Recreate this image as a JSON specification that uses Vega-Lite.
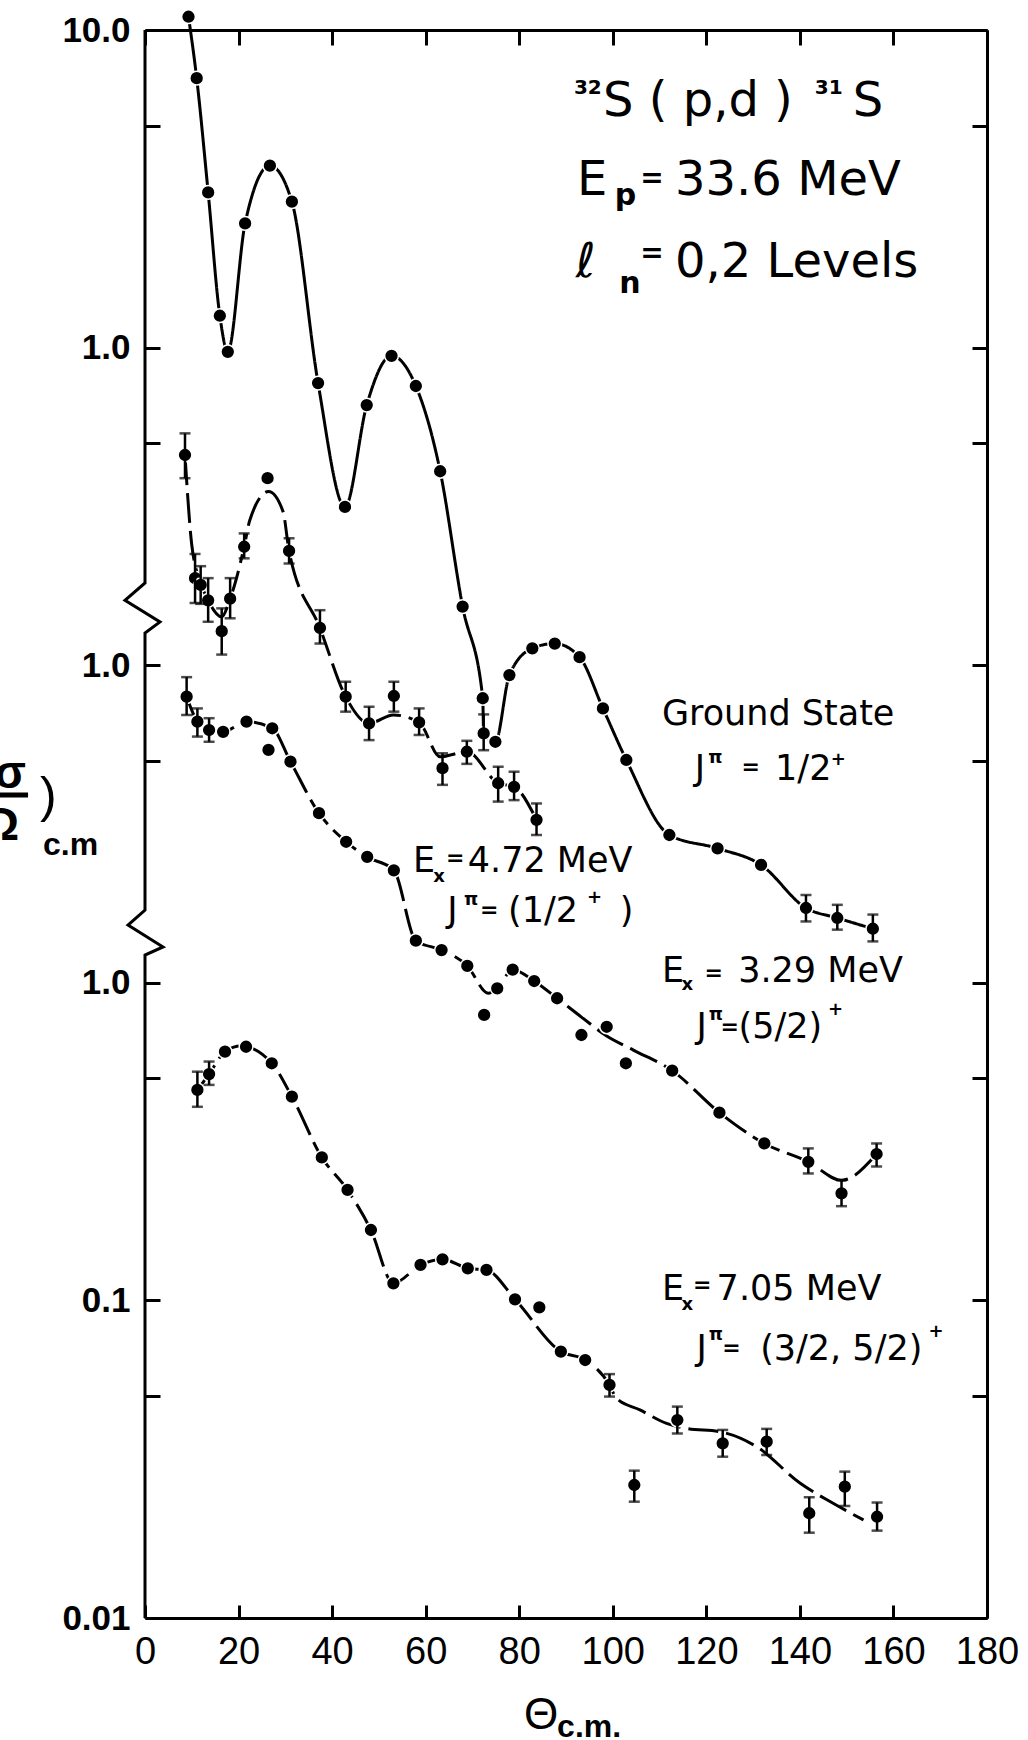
{
  "$schema": "https://vega.github.io/schema/vega-lite/v6.json",
  "width": 842,
  "height": 1588,
  "autosize": {"type": "none"},
  "padding": {"left": 145, "top": 30, "right": 41, "bottom": 122},
  "background": "white",
  "config": {
    "view": {"stroke": null},
    "axis": {"grid": false, "domainColor": "black", "tickColor": "black", "labelColor": "black"}
  },
  "datasets": {
    "pts": [
      {"state": "Ground state", "angle": 9.3, "xsec": 1101},
      {"state": "Ground state", "angle": 11.05, "xsec": 705},
      {"state": "Ground state", "angle": 13.5, "xsec": 308},
      {"state": "Ground state", "angle": 16.0, "xsec": 126},
      {"state": "Ground state", "angle": 17.7, "xsec": 97},
      {"state": "Ground state", "angle": 21.4, "xsec": 246},
      {"state": "Ground state", "angle": 26.7, "xsec": 374},
      {"state": "Ground state", "angle": 31.4, "xsec": 288},
      {"state": "Ground state", "angle": 37.0, "xsec": 77.3},
      {"state": "Ground state", "angle": 42.75, "xsec": 31.5},
      {"state": "Ground state", "angle": 47.4, "xsec": 65.9},
      {"state": "Ground state", "angle": 52.7, "xsec": 94.2},
      {"state": "Ground state", "angle": 57.9, "xsec": 75.7},
      {"state": "Ground state", "angle": 63.1, "xsec": 40.8},
      {"state": "Ground state", "angle": 67.9, "xsec": 15.3},
      {"state": "Ground state", "angle": 72.2, "xsec": 7.87},
      {"state": "Ground state", "angle": 72.4, "xsec": 6.1, "lo": 5.4, "hi": 7.0},
      {"state": "Ground state", "angle": 74.9, "xsec": 5.74},
      {"state": "Ground state", "angle": 77.9, "xsec": 9.31},
      {"state": "Ground state", "angle": 82.8, "xsec": 11.3},
      {"state": "Ground state", "angle": 87.6, "xsec": 11.7},
      {"state": "Ground state", "angle": 92.9, "xsec": 10.6},
      {"state": "Ground state", "angle": 97.9, "xsec": 7.31},
      {"state": "Ground state", "angle": 102.9, "xsec": 5.03},
      {"state": "Ground state", "angle": 112.1, "xsec": 2.92},
      {"state": "Ground state", "angle": 122.4, "xsec": 2.65},
      {"state": "Ground state", "angle": 131.7, "xsec": 2.35},
      {"state": "Ground state", "angle": 141.3, "xsec": 1.72, "lo": 1.56, "hi": 1.89},
      {"state": "Ground state", "angle": 148.0, "xsec": 1.60, "lo": 1.47, "hi": 1.76},
      {"state": "Ground state", "angle": 155.6, "xsec": 1.48, "lo": 1.35, "hi": 1.64},

      {"state": "4.72 MeV", "angle": 8.55, "xsec": 45.9, "lo": 38.8, "hi": 53.7},
      {"state": "4.72 MeV", "angle": 10.7, "xsec": 18.8, "lo": 15.7, "hi": 22.4},
      {"state": "4.72 MeV", "angle": 11.9, "xsec": 17.9, "lo": 15.6, "hi": 20.5},
      {"state": "4.72 MeV", "angle": 13.5, "xsec": 16.0, "lo": 13.7, "hi": 18.8},
      {"state": "4.72 MeV", "angle": 16.4, "xsec": 12.8, "lo": 10.8, "hi": 15.1},
      {"state": "4.72 MeV", "angle": 18.2, "xsec": 16.2, "lo": 14.05, "hi": 18.8},
      {"state": "4.72 MeV", "angle": 21.2, "xsec": 23.6, "lo": 21.7, "hi": 26.0},
      {"state": "4.72 MeV", "angle": 26.2, "xsec": 38.8},
      {"state": "4.72 MeV", "angle": 30.8, "xsec": 22.9, "lo": 20.9, "hi": 25.1},
      {"state": "4.72 MeV", "angle": 37.4, "xsec": 13.1, "lo": 11.7, "hi": 14.9},
      {"state": "4.72 MeV", "angle": 42.9, "xsec": 7.96, "lo": 7.14, "hi": 8.87},
      {"state": "4.72 MeV", "angle": 47.9, "xsec": 6.56, "lo": 5.81, "hi": 7.40},
      {"state": "4.72 MeV", "angle": 53.2, "xsec": 8.0, "lo": 7.14, "hi": 8.87},
      {"state": "4.72 MeV", "angle": 58.6, "xsec": 6.61, "lo": 6.03, "hi": 7.31},
      {"state": "4.72 MeV", "angle": 63.6, "xsec": 4.74, "lo": 4.20, "hi": 5.28},
      {"state": "4.72 MeV", "angle": 68.8, "xsec": 5.34, "lo": 4.89, "hi": 5.78},
      {"state": "4.72 MeV", "angle": 75.5, "xsec": 4.25, "lo": 3.72, "hi": 4.79},
      {"state": "4.72 MeV", "angle": 78.9, "xsec": 4.14, "lo": 3.76, "hi": 4.62},
      {"state": "4.72 MeV", "angle": 83.7, "xsec": 3.26, "lo": 2.92, "hi": 3.67},

      {"state": "3.29 MeV", "angle": 8.9, "xsec": 7.96, "lo": 6.97, "hi": 9.17},
      {"state": "3.29 MeV", "angle": 11.2, "xsec": 6.64, "lo": 5.96, "hi": 7.31},
      {"state": "3.29 MeV", "angle": 13.7, "xsec": 6.25, "lo": 5.74, "hi": 6.81},
      {"state": "3.29 MeV", "angle": 16.7, "xsec": 6.17},
      {"state": "3.29 MeV", "angle": 21.7, "xsec": 6.64},
      {"state": "3.29 MeV", "angle": 27.2, "xsec": 6.33},
      {"state": "3.29 MeV", "angle": 26.4, "xsec": 5.41},
      {"state": "3.29 MeV", "angle": 31.1, "xsec": 4.97},
      {"state": "3.29 MeV", "angle": 37.2, "xsec": 3.42},
      {"state": "3.29 MeV", "angle": 43.0, "xsec": 2.78},
      {"state": "3.29 MeV", "angle": 47.5, "xsec": 2.49},
      {"state": "3.29 MeV", "angle": 53.2, "xsec": 2.26},
      {"state": "3.29 MeV", "angle": 57.9, "xsec": 1.357},
      {"state": "3.29 MeV", "angle": 63.4, "xsec": 1.268},
      {"state": "3.29 MeV", "angle": 68.9, "xsec": 1.13},
      {"state": "3.29 MeV", "angle": 72.5, "xsec": 0.792},
      {"state": "3.29 MeV", "angle": 75.3, "xsec": 0.961},
      {"state": "3.29 MeV", "angle": 78.6, "xsec": 1.10},
      {"state": "3.29 MeV", "angle": 83.2, "xsec": 1.013},
      {"state": "3.29 MeV", "angle": 88.1, "xsec": 0.894},
      {"state": "3.29 MeV", "angle": 93.3, "xsec": 0.685},
      {"state": "3.29 MeV", "angle": 98.7, "xsec": 0.727},
      {"state": "3.29 MeV", "angle": 102.8, "xsec": 0.558},
      {"state": "3.29 MeV", "angle": 112.7, "xsec": 0.529},
      {"state": "3.29 MeV", "angle": 122.8, "xsec": 0.390},
      {"state": "3.29 MeV", "angle": 132.4, "xsec": 0.312},
      {"state": "3.29 MeV", "angle": 141.8, "xsec": 0.273, "lo": 0.251, "hi": 0.301},
      {"state": "3.29 MeV", "angle": 148.9, "xsec": 0.2174, "lo": 0.198, "hi": 0.239},
      {"state": "3.29 MeV", "angle": 156.4, "xsec": 0.289, "lo": 0.264, "hi": 0.312},

      {"state": "7.05 MeV", "angle": 11.2, "xsec": 0.460, "lo": 0.407, "hi": 0.525},
      {"state": "7.05 MeV", "angle": 13.7, "xsec": 0.516, "lo": 0.477, "hi": 0.565},
      {"state": "7.05 MeV", "angle": 17.1, "xsec": 0.607},
      {"state": "7.05 MeV", "angle": 21.6, "xsec": 0.629},
      {"state": "7.05 MeV", "angle": 27.1, "xsec": 0.558},
      {"state": "7.05 MeV", "angle": 31.4, "xsec": 0.438},
      {"state": "7.05 MeV", "angle": 37.8, "xsec": 0.282},
      {"state": "7.05 MeV", "angle": 43.3, "xsec": 0.2227},
      {"state": "7.05 MeV", "angle": 48.3, "xsec": 0.1666},
      {"state": "7.05 MeV", "angle": 53.1, "xsec": 0.1132},
      {"state": "7.05 MeV", "angle": 58.9, "xsec": 0.1293},
      {"state": "7.05 MeV", "angle": 63.6, "xsec": 0.1347},
      {"state": "7.05 MeV", "angle": 69.0, "xsec": 0.1262},
      {"state": "7.05 MeV", "angle": 73.0, "xsec": 0.1247},
      {"state": "7.05 MeV", "angle": 79.1, "xsec": 0.1008},
      {"state": "7.05 MeV", "angle": 84.3, "xsec": 0.0951},
      {"state": "7.05 MeV", "angle": 88.9, "xsec": 0.0690},
      {"state": "7.05 MeV", "angle": 94.1, "xsec": 0.0649},
      {"state": "7.05 MeV", "angle": 99.3, "xsec": 0.0542, "lo": 0.0498, "hi": 0.0586},
      {"state": "7.05 MeV", "angle": 104.6, "xsec": 0.02623, "lo": 0.02324, "hi": 0.0291},
      {"state": "7.05 MeV", "angle": 113.8, "xsec": 0.04201, "lo": 0.0381, "hi": 0.0463},
      {"state": "7.05 MeV", "angle": 123.5, "xsec": 0.03548, "lo": 0.0322, "hi": 0.0391},
      {"state": "7.05 MeV", "angle": 132.9, "xsec": 0.0359, "lo": 0.0326, "hi": 0.0394},
      {"state": "7.05 MeV", "angle": 142.0, "xsec": 0.02137, "lo": 0.01856, "hi": 0.0240},
      {"state": "7.05 MeV", "angle": 149.6, "xsec": 0.02591, "lo": 0.02253, "hi": 0.0289},
      {"state": "7.05 MeV", "angle": 156.5, "xsec": 0.02084, "lo": 0.01884, "hi": 0.0231}
    ],
    "fits": [
      {"state": "Ground state", "angle": 9.3, "xsec": 1101},
      {"state": "Ground state", "angle": 11.05, "xsec": 705},
      {"state": "Ground state", "angle": 13.5, "xsec": 308},
      {"state": "Ground state", "angle": 16.0, "xsec": 126},
      {"state": "Ground state", "angle": 17.7, "xsec": 97},
      {"state": "Ground state", "angle": 21.4, "xsec": 246},
      {"state": "Ground state", "angle": 26.7, "xsec": 374},
      {"state": "Ground state", "angle": 31.4, "xsec": 288},
      {"state": "Ground state", "angle": 37.0, "xsec": 77.3},
      {"state": "Ground state", "angle": 42.75, "xsec": 31.5},
      {"state": "Ground state", "angle": 47.4, "xsec": 65.9},
      {"state": "Ground state", "angle": 52.7, "xsec": 94.2},
      {"state": "Ground state", "angle": 57.9, "xsec": 75.7},
      {"state": "Ground state", "angle": 63.1, "xsec": 40.8},
      {"state": "Ground state", "angle": 67.9, "xsec": 15.3},
      {"state": "Ground state", "angle": 72.2, "xsec": 7.87},
      {"state": "Ground state", "angle": 72.4, "xsec": 6.1},
      {"state": "Ground state", "angle": 74.9, "xsec": 5.74},
      {"state": "Ground state", "angle": 77.9, "xsec": 9.31},
      {"state": "Ground state", "angle": 82.8, "xsec": 11.3},
      {"state": "Ground state", "angle": 87.6, "xsec": 11.7},
      {"state": "Ground state", "angle": 92.9, "xsec": 10.6},
      {"state": "Ground state", "angle": 97.9, "xsec": 7.31},
      {"state": "Ground state", "angle": 102.9, "xsec": 5.03},
      {"state": "Ground state", "angle": 112.1, "xsec": 2.92},
      {"state": "Ground state", "angle": 122.4, "xsec": 2.65},
      {"state": "Ground state", "angle": 131.7, "xsec": 2.35},
      {"state": "Ground state", "angle": 141.3, "xsec": 1.72},
      {"state": "Ground state", "angle": 148.0, "xsec": 1.60},
      {"state": "Ground state", "angle": 155.6, "xsec": 1.48},

      {"state": "4.72 MeV", "angle": 8.55, "xsec": 45.9},
      {"state": "4.72 MeV", "angle": 10.0, "xsec": 23.9},
      {"state": "4.72 MeV", "angle": 12.0, "xsec": 18.0},
      {"state": "4.72 MeV", "angle": 13.5, "xsec": 16.0},
      {"state": "4.72 MeV", "angle": 16.4, "xsec": 14.2},
      {"state": "4.72 MeV", "angle": 18.2, "xsec": 16.2},
      {"state": "4.72 MeV", "angle": 21.2, "xsec": 23.6},
      {"state": "4.72 MeV", "angle": 22.4, "xsec": 28.6},
      {"state": "4.72 MeV", "angle": 26.4, "xsec": 35.2},
      {"state": "4.72 MeV", "angle": 29.5, "xsec": 30.5},
      {"state": "4.72 MeV", "angle": 30.8, "xsec": 22.9},
      {"state": "4.72 MeV", "angle": 37.4, "xsec": 13.1},
      {"state": "4.72 MeV", "angle": 42.9, "xsec": 7.96},
      {"state": "4.72 MeV", "angle": 47.9, "xsec": 6.56},
      {"state": "4.72 MeV", "angle": 53.1, "xsec": 6.97},
      {"state": "4.72 MeV", "angle": 58.6, "xsec": 6.61},
      {"state": "4.72 MeV", "angle": 63.1, "xsec": 5.15},
      {"state": "4.72 MeV", "angle": 68.8, "xsec": 5.34},
      {"state": "4.72 MeV", "angle": 75.5, "xsec": 4.25},
      {"state": "4.72 MeV", "angle": 78.9, "xsec": 4.14},
      {"state": "4.72 MeV", "angle": 83.7, "xsec": 3.26},

      {"state": "3.29 MeV", "angle": 8.9, "xsec": 7.96},
      {"state": "3.29 MeV", "angle": 11.2, "xsec": 6.64},
      {"state": "3.29 MeV", "angle": 13.7, "xsec": 6.25},
      {"state": "3.29 MeV", "angle": 16.7, "xsec": 6.17},
      {"state": "3.29 MeV", "angle": 21.7, "xsec": 6.64},
      {"state": "3.29 MeV", "angle": 27.2, "xsec": 6.33},
      {"state": "3.29 MeV", "angle": 31.1, "xsec": 4.97},
      {"state": "3.29 MeV", "angle": 37.2, "xsec": 3.42},
      {"state": "3.29 MeV", "angle": 43.0, "xsec": 2.78},
      {"state": "3.29 MeV", "angle": 47.5, "xsec": 2.49},
      {"state": "3.29 MeV", "angle": 53.2, "xsec": 2.26},
      {"state": "3.29 MeV", "angle": 57.9, "xsec": 1.357},
      {"state": "3.29 MeV", "angle": 63.4, "xsec": 1.268},
      {"state": "3.29 MeV", "angle": 68.9, "xsec": 1.13},
      {"state": "3.29 MeV", "angle": 73.4, "xsec": 0.927},
      {"state": "3.29 MeV", "angle": 75.3, "xsec": 0.961},
      {"state": "3.29 MeV", "angle": 78.6, "xsec": 1.10},
      {"state": "3.29 MeV", "angle": 83.2, "xsec": 1.013},
      {"state": "3.29 MeV", "angle": 88.1, "xsec": 0.894},
      {"state": "3.29 MeV", "angle": 93.3, "xsec": 0.78},
      {"state": "3.29 MeV", "angle": 98.7, "xsec": 0.68},
      {"state": "3.29 MeV", "angle": 104.4, "xsec": 0.614},
      {"state": "3.29 MeV", "angle": 112.7, "xsec": 0.529},
      {"state": "3.29 MeV", "angle": 122.8, "xsec": 0.390},
      {"state": "3.29 MeV", "angle": 132.4, "xsec": 0.312},
      {"state": "3.29 MeV", "angle": 141.8, "xsec": 0.273},
      {"state": "3.29 MeV", "angle": 148.9, "xsec": 0.239},
      {"state": "3.29 MeV", "angle": 156.4, "xsec": 0.289},

      {"state": "7.05 MeV", "angle": 11.2, "xsec": 0.460},
      {"state": "7.05 MeV", "angle": 13.7, "xsec": 0.516},
      {"state": "7.05 MeV", "angle": 17.1, "xsec": 0.607},
      {"state": "7.05 MeV", "angle": 20.5, "xsec": 0.632},
      {"state": "7.05 MeV", "angle": 27.1, "xsec": 0.558},
      {"state": "7.05 MeV", "angle": 31.4, "xsec": 0.438},
      {"state": "7.05 MeV", "angle": 37.8, "xsec": 0.282},
      {"state": "7.05 MeV", "angle": 43.3, "xsec": 0.2227},
      {"state": "7.05 MeV", "angle": 48.3, "xsec": 0.1666},
      {"state": "7.05 MeV", "angle": 53.1, "xsec": 0.1132},
      {"state": "7.05 MeV", "angle": 58.9, "xsec": 0.1293},
      {"state": "7.05 MeV", "angle": 63.6, "xsec": 0.1347},
      {"state": "7.05 MeV", "angle": 69.0, "xsec": 0.1262},
      {"state": "7.05 MeV", "angle": 73.0, "xsec": 0.1247},
      {"state": "7.05 MeV", "angle": 79.1, "xsec": 0.1008},
      {"state": "7.05 MeV", "angle": 88.9, "xsec": 0.0690},
      {"state": "7.05 MeV", "angle": 94.1, "xsec": 0.0649},
      {"state": "7.05 MeV", "angle": 99.3, "xsec": 0.0542},
      {"state": "7.05 MeV", "angle": 100.8, "xsec": 0.0492},
      {"state": "7.05 MeV", "angle": 105.8, "xsec": 0.0452},
      {"state": "7.05 MeV", "angle": 111.5, "xsec": 0.0410},
      {"state": "7.05 MeV", "angle": 115.8, "xsec": 0.0395},
      {"state": "7.05 MeV", "angle": 122.9, "xsec": 0.0386},
      {"state": "7.05 MeV", "angle": 130.8, "xsec": 0.0346},
      {"state": "7.05 MeV", "angle": 140.0, "xsec": 0.0266},
      {"state": "7.05 MeV", "angle": 147.1, "xsec": 0.02297},
      {"state": "7.05 MeV", "angle": 153.6, "xsec": 0.02035}
    ],
    "edge": [
      {"seq": 1, "angle": 0, "xsec": 1000},
      {"seq": 2, "angle": 0, "xsec": 18.15},
      {"seq": 3, "angle": -4.28, "xsec": 16.0},
      {"seq": 4, "angle": 3.2, "xsec": 13.68},
      {"seq": 5, "angle": 0, "xsec": 12.63},
      {"seq": 6, "angle": 0, "xsec": 1.695},
      {"seq": 7, "angle": -3.63, "xsec": 1.52},
      {"seq": 8, "angle": 3.85, "xsec": 1.297},
      {"seq": 9, "angle": 0, "xsec": 1.223},
      {"seq": 10, "angle": 0, "xsec": 0.01}
    ],
    "notes": [
      {"role": "title", "txt": "S ( p,d )", "angle": 97.9, "xsec": 536},
      {"role": "title", "txt": "S", "angle": 151.3, "xsec": 536},
      {"role": "title", "txt": "E", "angle": 92.35, "xsec": 302},
      {"role": "title", "txt": "33.6 MeV", "angle": 113.3, "xsec": 302},
      {"role": "title", "txt": "ℓ", "angle": 92.1, "xsec": 167},
      {"role": "title", "txt": "0,2 Levels", "angle": 113.3, "xsec": 167},
      {"role": "titlesup", "txt": "32", "angle": 91.7, "xsec": 628.7},
      {"role": "titlesup", "txt": "31", "angle": 143.2, "xsec": 628.7},
      {"role": "titlesub", "txt": "p", "angle": 100.4, "xsec": 281},
      {"role": "titlesub", "txt": "n", "angle": 101.4, "xsec": 148.6},
      {"role": "eqbig", "txt": "=", "angle": 108.4, "xsec": 339.6},
      {"role": "eqbig", "txt": "=", "angle": 108.4, "xsec": 197},

      {"role": "label", "txt": "Ground  State", "angle": 110.5, "xsec": 6.48},
      {"role": "label", "txt": "J", "angle": 117.5, "xsec": 4.35},
      {"role": "label", "txt": "1/2", "angle": 134.7, "xsec": 4.35},
      {"role": "mini", "txt": "π", "angle": 120.4, "xsec": 4.92},
      {"role": "mini", "txt": "+", "angle": 146.6, "xsec": 4.85},
      {"role": "eq", "txt": "=", "angle": 129.5, "xsec": 4.78},

      {"role": "label", "txt": "E", "angle": 57.3, "xsec": 2.234},
      {"role": "label", "txt": "4.72 MeV", "angle": 69.0, "xsec": 2.234},
      {"role": "label", "txt": "J", "angle": 64.6, "xsec": 1.554},
      {"role": "label", "txt": "(1/2", "angle": 77.6, "xsec": 1.554},
      {"role": "label", "txt": ")", "angle": 101.5, "xsec": 1.554},
      {"role": "mini", "txt": "x", "angle": 61.6, "xsec": 2.077},
      {"role": "mini", "txt": "π", "angle": 68.2, "xsec": 1.758},
      {"role": "mini", "txt": "+", "angle": 94.5, "xsec": 1.784},
      {"role": "eq", "txt": "=", "angle": 66.3, "xsec": 2.471},
      {"role": "eq", "txt": "=", "angle": 73.6, "xsec": 1.695},

      {"role": "label", "txt": "E", "angle": 110.5, "xsec": 1.008},
      {"role": "label", "txt": "3.29 MeV", "angle": 126.8, "xsec": 1.008},
      {"role": "label", "txt": "J", "angle": 117.9, "xsec": 0.668},
      {"role": "label", "txt": "(5/2)", "angle": 126.9, "xsec": 0.668},
      {"role": "mini", "txt": "x", "angle": 114.7, "xsec": 0.949},
      {"role": "mini", "txt": "π", "angle": 120.5, "xsec": 0.764},
      {"role": "mini", "txt": "+", "angle": 146.0, "xsec": 0.792},
      {"role": "eq", "txt": "=", "angle": 125.0, "xsec": 0.727},
      {"role": "eq", "txt": "=", "angle": 121.6, "xsec": 1.077},

      {"role": "label", "txt": "E", "angle": 110.5, "xsec": 0.1003},
      {"role": "label", "txt": "7.05 MeV", "angle": 122.2, "xsec": 0.1003},
      {"role": "label", "txt": "J", "angle": 117.9, "xsec": 0.0649},
      {"role": "label", "txt": "(3/2, 5/2)", "angle": 131.5, "xsec": 0.0649},
      {"role": "mini", "txt": "x", "angle": 114.7, "xsec": 0.0933},
      {"role": "mini", "txt": "π", "angle": 120.5, "xsec": 0.0750},
      {"role": "mini", "txt": "+", "angle": 167.5, "xsec": 0.0767},
      {"role": "eq", "txt": "=", "angle": 119.1, "xsec": 0.1118},
      {"role": "eq", "txt": "=", "angle": 125.4, "xsec": 0.0708},

      {"role": "theta", "txt": "Θ", "angle": 84.7, "xsec": 0.004472},
      {"role": "cm", "txt": "c.m.", "angle": 88.1, "xsec": 0.00422},
      {"role": "cm", "txt": "c.m", "angle": -21.8, "xsec": 2.526},
      {"role": "frac", "txt": "dσ", "angle": -25.44, "xsec": 4.105},
      {"role": "frac", "txt": "dΩ", "angle": -26.9, "xsec": 2.815},
      {"role": "paren", "txt": ")", "angle": -22.45, "xsec": 3.45},
      {"role": "bar", "txt": "", "angle": -32, "angle2": -25.0, "xsec": 3.902}
    ]
  },
  "encoding": {
    "x": {"field": "angle", "type": "quantitative", "scale": {"domain": [0, 180], "nice": false, "zero": false}, "axis": null},
    "y": {"field": "xsec", "type": "quantitative", "scale": {"type": "log", "domain": [0.01, 1000], "nice": false}, "axis": null}
  },
  "layer": [
    {
      "data": {"name": "edge"},
      "mark": {"type": "line", "color": "black", "strokeWidth": 3, "strokeJoin": "miter"},
      "encoding": {
        "x": {
          "field": "angle", "type": "quantitative",
          "scale": {"domain": [0, 180], "nice": false, "zero": false},
          "axis": {
            "orient": "bottom", "values": [0, 20, 40, 60, 80, 100, 120, 140, 160, 180],
            "domainWidth": 3, "tickSize": -13, "tickWidth": 3,
            "labelFont": "Liberation Sans", "labelFontSize": 38, "labelPadding": 28,
            "labelFlush": false, "labelOverlap": false, "title": null
          }
        },
        "y": {
          "field": "xsec", "type": "quantitative",
          "scale": {"type": "log", "domain": [0.01, 1000], "nice": false},
          "axis": {
            "orient": "left", "values": [0.01, 0.05, 0.1, 0.5, 1, 5, 10, 50, 100, 500, 1000],
            "domain": false, "tickSize": -15, "tickWidth": 3,
            "labelExpr": "datum.value == 1000 ? '10.0' : (datum.value == 100 || datum.value == 10 || datum.value == 1) ? '1.0' : datum.value == 0.1 ? '0.1' : datum.value == 0.01 ? '0.01' : ''",
            "labelFont": "Liberation Sans", "labelFontSize": 35, "labelFontWeight": "bold",
            "labelPadding": 30, "labelOverlap": false, "title": null
          }
        },
        "order": {"field": "seq", "type": "quantitative"}
      }
    },
    {
      "data": {"name": "fits"},
      "mark": {"type": "line", "color": "black", "strokeWidth": 3, "interpolate": "monotone"},
      "encoding": {
        "x": {
          "field": "angle", "type": "quantitative",
          "scale": {"domain": [0, 180], "nice": false, "zero": false},
          "axis": {
            "orient": "top", "values": [0, 20, 40, 60, 80, 100, 120, 140, 160, 180],
            "labels": false, "domainWidth": 3, "tickSize": -15, "tickWidth": 3, "title": null
          }
        },
        "y": {
          "field": "xsec", "type": "quantitative",
          "scale": {"type": "log", "domain": [0.01, 1000], "nice": false},
          "axis": {
            "orient": "right", "values": [0.01, 0.05, 0.1, 0.5, 1, 5, 10, 50, 100, 500, 1000],
            "labels": false, "domainWidth": 3, "tickSize": -15, "tickWidth": 3, "title": null
          }
        },
        "detail": {"field": "state"},
        "strokeDash": {
          "field": "state", "type": "nominal",
          "scale": {"domain": ["Ground state", "4.72 MeV", "3.29 MeV", "7.05 MeV"], "range": [[1, 0], [30, 8], [30, 8], [30, 8]]},
          "legend": null
        }
      }
    },
    {
      "data": {"name": "pts"},
      "mark": {"type": "point", "filled": true, "fill": "black", "stroke": "white", "strokeWidth": 1.5, "size": 190, "opacity": 1}
    },
    {
      "data": {"name": "pts"},
      "transform": [{"filter": "datum.lo != null"}],
      "mark": {"type": "rule", "color": "black", "strokeWidth": 2.5},
      "encoding": {
        "y": {"field": "lo", "type": "quantitative", "scale": {"type": "log", "domain": [0.01, 1000], "nice": false}, "axis": null},
        "y2": {"field": "hi"}
      }
    },
    {
      "data": {"name": "pts"},
      "transform": [{"filter": "datum.lo != null"}, {"fold": ["lo", "hi"], "as": ["end", "bound"]}],
      "mark": {"type": "tick", "orient": "horizontal", "color": "black", "size": 11, "thickness": 2.5},
      "encoding": {
        "y": {"field": "bound", "type": "quantitative", "scale": {"type": "log", "domain": [0.01, 1000], "nice": false}, "axis": null}
      }
    },
    {
      "data": {"name": "notes"},
      "transform": [{"filter": "datum.role === 'bar'"}],
      "mark": {"type": "rule", "color": "black", "strokeWidth": 5},
      "encoding": {"x2": {"field": "angle2"}}
    },
    {
      "data": {"name": "notes"},
      "transform": [{"filter": "datum.role === 'title'"}],
      "mark": {"type": "text", "font": "DejaVu Sans", "fontSize": 48, "align": "left", "baseline": "alphabetic", "color": "black"},
      "encoding": {"text": {"field": "txt"}}
    },
    {
      "data": {"name": "notes"},
      "transform": [{"filter": "datum.role === 'titlesup'"}],
      "mark": {"type": "text", "font": "DejaVu Sans", "fontSize": 20, "fontWeight": "bold", "align": "left", "baseline": "alphabetic", "color": "black"},
      "encoding": {"text": {"field": "txt"}}
    },
    {
      "data": {"name": "notes"},
      "transform": [{"filter": "datum.role === 'titlesub'"}],
      "mark": {"type": "text", "font": "DejaVu Sans", "fontSize": 30, "fontWeight": "bold", "align": "left", "baseline": "alphabetic", "color": "black"},
      "encoding": {"text": {"field": "txt"}}
    },
    {
      "data": {"name": "notes"},
      "transform": [{"filter": "datum.role === 'eqbig'"}],
      "mark": {"type": "text", "font": "DejaVu Sans", "fontSize": 28, "fontWeight": "bold", "align": "center", "baseline": "middle", "color": "black"},
      "encoding": {"text": {"field": "txt"}}
    },
    {
      "data": {"name": "notes"},
      "transform": [{"filter": "datum.role === 'label'"}],
      "mark": {"type": "text", "font": "DejaVu Sans", "fontSize": 35, "align": "left", "baseline": "alphabetic", "color": "black"},
      "encoding": {"text": {"field": "txt"}}
    },
    {
      "data": {"name": "notes"},
      "transform": [{"filter": "datum.role === 'mini'"}],
      "mark": {"type": "text", "font": "DejaVu Sans", "fontSize": 18, "fontWeight": "bold", "align": "left", "baseline": "alphabetic", "color": "black"},
      "encoding": {"text": {"field": "txt"}}
    },
    {
      "data": {"name": "notes"},
      "transform": [{"filter": "datum.role === 'eq'"}],
      "mark": {"type": "text", "font": "DejaVu Sans", "fontSize": 22, "fontWeight": "bold", "align": "center", "baseline": "middle", "color": "black"},
      "encoding": {"text": {"field": "txt"}}
    },
    {
      "data": {"name": "notes"},
      "transform": [{"filter": "datum.role === 'theta'"}],
      "mark": {"type": "text", "font": "Liberation Sans", "fontSize": 44, "align": "center", "baseline": "alphabetic", "color": "black"},
      "encoding": {"text": {"field": "txt"}}
    },
    {
      "data": {"name": "notes"},
      "transform": [{"filter": "datum.role === 'cm'"}],
      "mark": {"type": "text", "font": "Liberation Sans", "fontSize": 32, "fontWeight": "bold", "align": "left", "baseline": "alphabetic", "color": "black"},
      "encoding": {"text": {"field": "txt"}}
    },
    {
      "data": {"name": "notes"},
      "transform": [{"filter": "datum.role === 'frac'"}],
      "mark": {"type": "text", "font": "Liberation Sans", "fontSize": 46, "fontWeight": "bold", "align": "right", "baseline": "alphabetic", "color": "black"},
      "encoding": {"text": {"field": "txt"}}
    },
    {
      "data": {"name": "notes"},
      "transform": [{"filter": "datum.role === 'paren'"}],
      "mark": {"type": "text", "font": "Liberation Sans", "fontSize": 50, "align": "left", "baseline": "alphabetic", "color": "black"},
      "encoding": {"text": {"field": "txt"}}
    }
  ],
  "resolve": {"axis": {"x": "independent", "y": "independent"}}
}
